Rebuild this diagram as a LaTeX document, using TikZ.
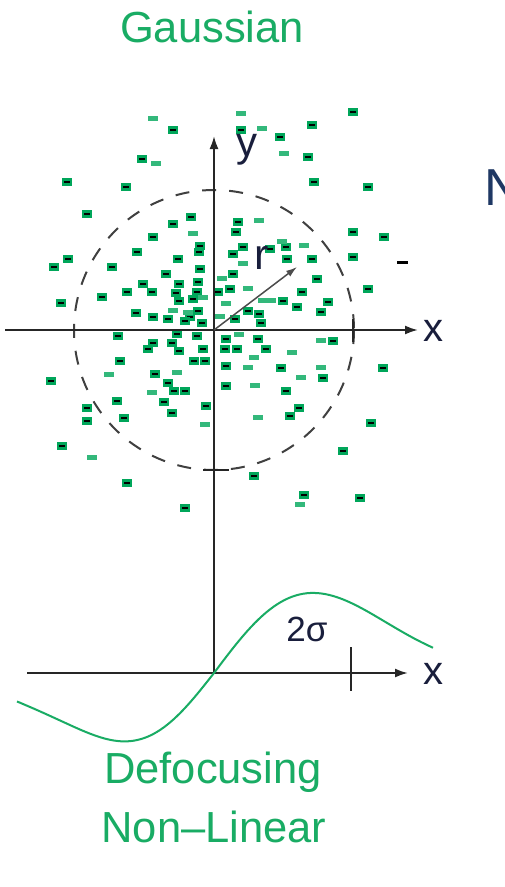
\documentclass[tikz,border=0pt]{standalone}
\usepackage{fontspec}
\setmainfont{Liberation Sans}
\usetikzlibrary{arrows.meta}
\definecolor{dotgreen}{RGB}{0,166,90}
\definecolor{txtgreen}{RGB}{25,172,100}
\definecolor{lblnavy}{RGB}{25,30,60}
\definecolor{navyN}{RGB}{31,56,100}
\tikzset{
  bdot/.style={rectangle, fill=dotgreen, minimum width=10.5pt, minimum height=7.5pt, inner sep=0pt,
    path picture={\fill[black] ([xshift=-3pt,yshift=-1.3pt]path picture bounding box.center) rectangle ++(6pt,2.6pt);}},
  gdot/.style={rectangle, fill=dotgreen!80, minimum width=10pt, minimum height=5pt, inner sep=0pt},
  axisline/.style={line width=2pt, black!85},
  axisarrow/.style={axisline, -{Latex[length=13pt,width=9pt]}},
  ticks/.style={line width=2pt, black!85},
  bigtxt/.style={text=txtgreen, font=\fontsize{43.5}{48}\selectfont, inner sep=0pt},
  lbl/.style={text=lblnavy, inner sep=0pt},
}
\begin{document}
\begin{tikzpicture}[x=1pt,y=-1pt]
\useasboundingbox (0,0) rectangle (505,887);
\fill[white] (0,0) rectangle (505,887);

% title
\node[bigtxt] (title) at (212,27) {Gaussian};
\node[text=navyN, font=\fontsize{52}{60}\selectfont, inner sep=0pt, anchor=west] (N) at (484,188) {N};

% dots with black centre
\foreach \x/\y [count=\i] in {
173/130, 241/130, 280/137, 312/125, 353/112, 142/159, 308/157, 67/182, 126/187, 314/182, 368/187,
87/214, 191/217, 173/224, 238/222, 236/232, 153/237, 353/232, 384/237, 286/247, 199/252, 243/247,
137/252, 68/259, 54/267, 112/267, 178/259, 200/269, 233/254, 270/249, 287/259, 312/259, 353/257,
166/274, 233/274, 317/279, 143/284, 179/284, 198/282, 127/292, 152/292, 176/293, 197/292, 218/292,
230/289, 302/292, 368/289, 61/303, 102/297, 179/301, 193/299, 283/301, 297/307, 328/302, 321/312,
136/313, 153/317, 168/319, 198/311, 190/317, 185/321, 202/323, 235/319, 248/311, 259/314, 261/323,
118/336, 177/334, 197/336, 226/339, 258/339, 333/341, 153/343, 148/349, 172/343, 179/351, 203/349,
225/349, 237/349, 266/349, 120/361, 194/361, 205/361, 383/368, 155/374, 226/366, 281/368, 51/381,
168/383, 323/378, 226/386, 174/391, 185/391, 286/391, 117/401, 164/402, 206/406, 87/408, 172/413,
299/408, 290/416, 87/421, 124/418, 371/423, 62/446, 343/451, 254/476, 127/483, 304/495, 360/498,
185/508, 200/246}
  \node[bdot] (b\i) at (\x,\y) {};
% plain green dots
\foreach \x/\y [count=\i] in {
153/118, 241/113, 262/128, 156/163, 284/153, 259/220, 193/233, 282/241, 304/245, 243/263,
222/278, 248/288, 203/297, 226/303, 173/310, 188/312, 220/316, 239/334, 321/340, 254/357,
292/352, 109/374, 177/372, 248/367, 321/367, 301/377, 255/385, 152/392, 258/417, 205/424,
92/457, 300/504}
  \node[gdot] (g\i) at (\x,\y) {};
\node[gdot, minimum width=18pt] (glong) at (267,300) {};
\node[rectangle, fill=black, minimum width=11pt, minimum height=3pt, inner sep=0pt] (blk) at (402,262) {};

% upper axes
\coordinate (O) at (214,330);
\coordinate (xl) at (5,330);
\coordinate (xr) at (418,330);
\coordinate (O2) at (214,673);
\coordinate (yt) at (214,136);
\draw[dashed, line width=2pt, black!75, dash pattern=on 14pt off 13pt] (O) circle[radius=140];
\draw[axisarrow] (xl) -- (xr);
\draw[axisarrow] (O2) -- (yt);
\draw[ticks] (353,319) -- (353,342);
\draw[ticks] (203,470) -- (229,470);
\coordinate (rt) at (297,267);
\draw[line width=1.5pt, black!70, -{Latex[length=11pt,width=7pt]}] (O) -- (rt);
\node[lbl, font=\fontsize{42}{44}\selectfont] (ylab) at (247,150) {y};
\node[lbl, font=\fontsize{40}{44}\selectfont] (xlab) at (433,331) {x};
\node[lbl, font=\fontsize{43}{44}\selectfont] (rlab) at (262,258) {r};

% lower plot
\coordinate (x2l) at (27,673);
\coordinate (x2r) at (408,673);
\draw[axisarrow] (x2l) -- (x2r);
\draw[ticks] (351,647) -- (351,691);
\node[lbl, font=\fontsize{40}{44}\selectfont] (xlab2) at (433,674) {x};
\node[lbl, font=\fontsize{35}{40}\selectfont] (sig) at (307,629) {2σ};
\draw[txtgreen, line width=2pt]
  plot[domain=-197:0, samples=60] ({\x+214}, {673 - 112*(\x/88)*exp(-0.5*(\x/88)^2) + 8*exp(-0.5*((\x+197)/45)^2)})
  -- plot[domain=0:219, samples=60] ({\x+214}, {673 - 132*(\x/99)*exp(-0.5*(\x/99)^2)});

\node[bigtxt] (def) at (213,772) {Defocusing};
\node[bigtxt] (nl) at (214,827) {Non–Linear};
\end{tikzpicture}
\end{document}
